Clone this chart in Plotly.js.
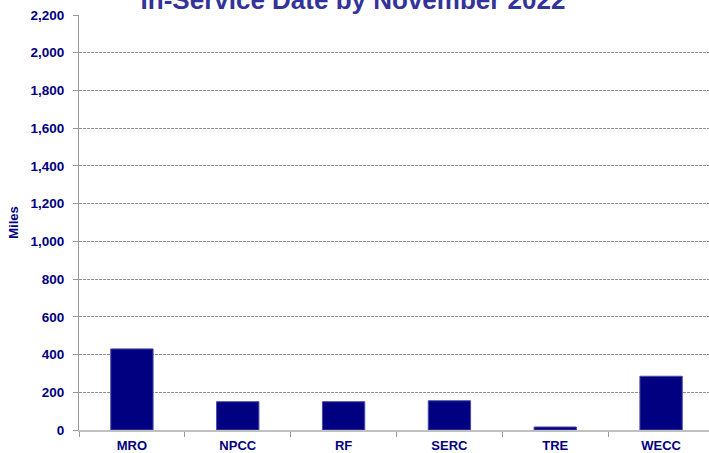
<!DOCTYPE html>
<html>
<head>
<meta charset="utf-8">
<script src="https://cdn.plot.ly/plotly-3.0.1.min.js"></script>
<style>
html,body{margin:0;padding:0;overflow:hidden;background:#fff;}
#chart{width:720px;height:453px;}
</style>
</head>
<body>
<div id="chart"></div>
<script>
const regions = ["MRO", "NPCC", "RF", "SERC", "TRE", "WECC"];
const miles = [430, 150, 150, 155, 16, 285];
const yTickVals = [0, 200, 400, 600, 800, 1000, 1200, 1400, 1600, 1800, 2000, 2200];
const yTickText = ["0", "200", "400", "600", "800", "1,000", "1,200", "1,400", "1,600", "1,800", "2,000", "2,200"];
const chartTitle = "In-Service Date by November 2022";
const yTitle = "Miles";

const navy = "#000080";
const font = "Liberation Sans, Arial, sans-serif";

Plotly.newPlot("chart", [{
  type: "bar",
  x: regions,
  y: miles,
  marker: {color: navy, line: {color: "#4a4aa8", width: 1}},
  hoverinfo: "x+y"
}], {
  width: 720,
  height: 453,
  margin: {l: 79, r: 6, t: 15, b: 23, pad: 0},
  paper_bgcolor: "#fff",
  plot_bgcolor: "#fff",
  bargap: 0.6,
  showlegend: false,
  title: {
    text: "<b>" + chartTitle + "</b>",
    font: {family: font, size: 26, color: "#333399"},
    xref: "container", x: 353/720, xanchor: "center",
    yref: "container", y: 1.0, yanchor: "middle"
  },
  xaxis: {
    type: "category",
    showgrid: false,
    showline: true, linecolor: "#c0c0c0", linewidth: 2,
    ticks: "outside", tickson: "boundaries", ticklen: 5, tickcolor: "#999", tickwidth: 1,
    tickfont: {family: font, size: 13, color: navy, weight: "bold"},
    ticklabelstandoff: 2,
    zeroline: false
  },
  yaxis: {
    range: [0, 2200],
    tickvals: yTickVals,
    ticktext: yTickText,
    showgrid: true, gridcolor: "#909090", griddash: "3px,1px", gridwidth: 1,
    showline: true, linecolor: "#999", linewidth: 1,
    ticks: "outside", ticklen: 5, tickcolor: "#999",
    tickfont: {family: font, size: 13.5, color: navy, weight: "bold"},
    ticklabelstandoff: 6,
    zeroline: false,
    title: {text: "<b>" + yTitle + "</b>", font: {family: font, size: 13, color: navy}, standoff: 8}
  }
}, {displayModeBar: false, staticPlot: true});
</script>
</body>
</html>
